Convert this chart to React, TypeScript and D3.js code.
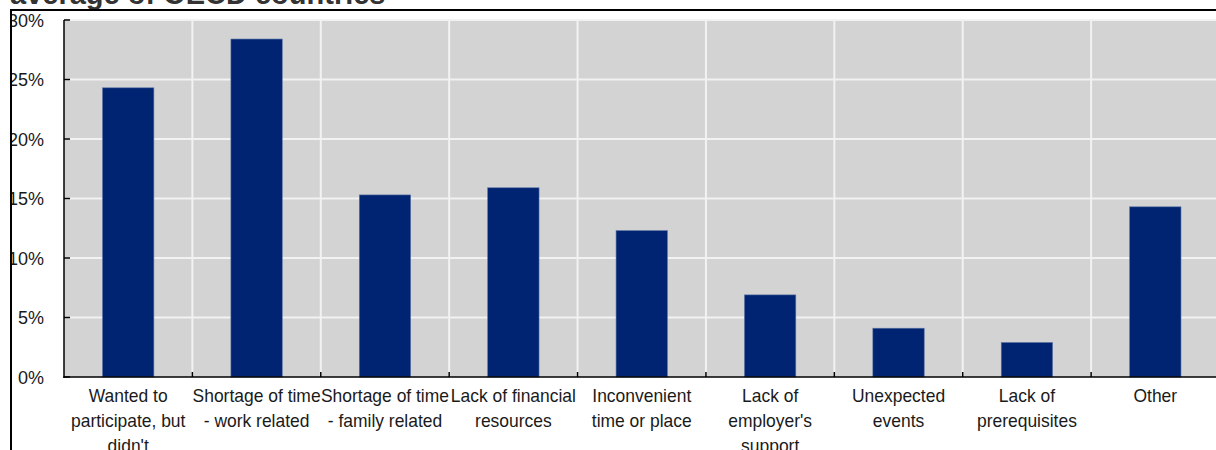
import React from "react";
import * as d3 from "d3";

const categories: string[][] = [
  ["Wanted to", "participate, but", "didn't"],
  ["Shortage of time", "- work related"],
  ["Shortage of time", "- family related"],
  ["Lack of financial", "resources"],
  ["Inconvenient", "time or place"],
  ["Lack of", "employer's", "support"],
  ["Unexpected", "events"],
  ["Lack of", "prerequisites"],
  ["Other"],
];
const values: number[] = [24.3, 28.4, 15.3, 15.9, 12.3, 6.9, 4.1, 2.9, 14.3];
const yTicks: number[] = [0, 5, 10, 15, 20, 25, 30];
const title = "average of OECD countries";

const W = 1216;
const H = 450;
const FONT = "'Liberation Sans', Arial, sans-serif";

export default function App() {
  const keys = categories.map((_, i) => String(i));
  const x = d3.scaleBand<string>().domain(keys).range([64, 1219.5]).padding(0);
  const y = d3.scaleLinear().domain([0, 30]).range([377, 20]);
  const step = x.step();
  const barW = step * 0.4;

  return (
    <svg
      width={W}
      height={H}
      style={{ position: "absolute", left: 0, top: 0, background: "#fff" }}
      fontFamily={FONT}
    >
      <defs>
        <clipPath id="frame">
          <rect x={12} y={11} width={W} height={H} />
        </clipPath>
      </defs>
      {/* title, cropped at top */}
      <text x={10} y={4} fontSize={29} fontWeight="bold" fill="#333">
        {title}
      </text>
      <g clipPath="url(#frame)">
        <rect x={64} y={y(30)} width={1219.5 - 64} height={y(0) - y(30)} fill="#d3d3d3" />
        {yTicks.slice(1).map((t) => (
          <line key={"gy" + t} x1={64} x2={W} y1={y(t)} y2={y(t)} stroke="#f2f2f2" strokeWidth={2} />
        ))}
        {keys.slice(1).map((k) => (
          <line key={"gx" + k} x1={x(k)!} x2={x(k)!} y1={y(30)} y2={y(0)} stroke="#f2f2f2" strokeWidth={2} />
        ))}
        {values.map((v, i) => (
          <rect
            key={"b" + i}
            x={x(String(i))! + step * 0.3}
            y={y(v)}
            width={barW}
            height={y(0) - y(v)}
            fill="#002472"
            stroke="#5a74a4"
            strokeWidth={0.6}
          />
        ))}
        {/* axes */}
        <line x1={64} x2={64} y1={y(30)} y2={y(0) + 1} stroke="#000" strokeWidth={1.5} />
        <line x1={63.3} x2={W} y1={y(0)} y2={y(0)} stroke="#000" strokeWidth={1.5} />
        {yTicks.map((t) => (
          <line key={"ty" + t} x1={64} x2={70} y1={y(t)} y2={y(t)} stroke="#000" strokeWidth={1.5} />
        ))}
        {keys.slice(1).map((k) => (
          <line key={"tx" + k} x1={x(k)!} x2={x(k)!} y1={y(0)} y2={y(0) - 5} stroke="#000" strokeWidth={1.5} />
        ))}
        {yTicks.map((t) => (
          <text key={"ly" + t} x={44} y={y(t) + 6.5} fontSize={18} textAnchor="end" fill="#1a1a1a">
            {t + "%"}
          </text>
        ))}
        {categories.map((lines, i) => {
          const cx = x(String(i))! + step / 2;
          return (
            <g key={"lx" + i} transform={`translate(${cx},0) scale(0.97,1)`}>
              {lines.map((ln, j) => (
                <text key={j} x={0} y={402 + j * 24.8} fontSize={18} textAnchor="middle" fill="#1a1a1a">
                  {ln}
                </text>
              ))}
            </g>
          );
        })}
      </g>
      {/* frame */}
      <line x1={11} x2={W} y1={10} y2={10} stroke="#000" strokeWidth={2} />
      <line x1={11} x2={11} y1={9} y2={H} stroke="#000" strokeWidth={2} />
    </svg>
  );
}
